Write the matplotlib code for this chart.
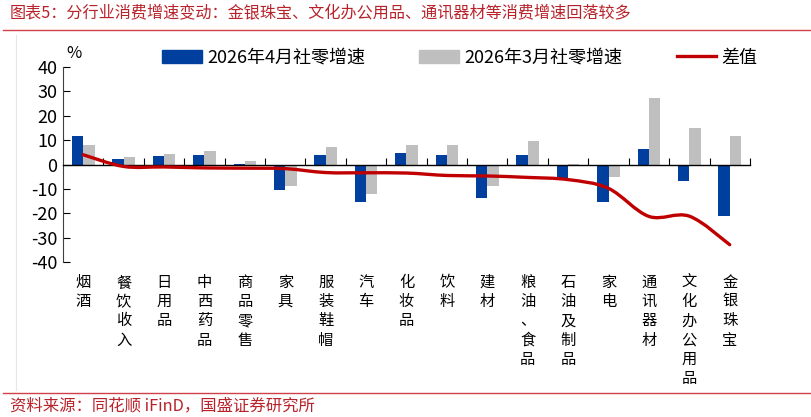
# -*- coding: utf-8 -*-
"""
分行业消费增速变动：4月 vs 3月社零增速及差值
"""

import numpy as np
import matplotlib
matplotlib.use('Agg')
import matplotlib.pyplot as plt
from matplotlib.path import Path
from matplotlib.patches import PathPatch
from matplotlib.lines import Line2D

plt.rcParams['font.family'] = ['Noto Sans CJK SC', 'DejaVu Sans']
plt.rcParams['axes.unicode_minus'] = False

# 数据
categories = ['烟酒', '餐饮收入', '日用品', '中西药品', '商品零售', '家具', '服装鞋帽', '汽车',
              '化妆品', '饮料', '建材', '粮油、食品', '石油及制品', '家电', '通讯器材',
              '文化办公用品', '金银珠宝']
apr_growth = [11.8, 2.2, 3.4, 4.1, 0.1, -10.5, 3.8, -15.3, 4.9, 3.7, -13.7, 4.1, -5.9, -15.3,
              6.3, -6.8, -21.1]
mar_growth = [7.8, 3.0, 4.4, 5.5, 1.6, -8.8, 7.1, -11.9, 8.2, 8.2, -9.0, 9.6, 0.4, -5.1,
              27.3, 15.1, 11.8]
diff = [4.0, -0.8, -1.0, -1.4, -1.5, -1.7, -3.3, -3.4, -3.5, -4.5, -4.7, -5.3, -6.2, -9.8,
        -21.3, -21.2, -32.9]
yticks = [40, 30, 20, 10, 0, -10, -20, -30, -40]

title = '图表5：分行业消费增速变动：金银珠宝、文化办公用品、通讯器材等消费增速回落较多'
source = '资料来源：同花顺 iFinD，国盛证券研究所'

BLUE = '#003F9E'
GRAY = '#BFBFBF'
RED_LINE = '#C00000'
TITLE_RED = '#B8232B'


def smooth_path(xs, ys):
    """Excel风格平滑曲线（贝塞尔控制点）"""
    pts = np.column_stack([xs, ys]).astype(float)
    n = len(pts)
    verts = [pts[0]]
    codes = [Path.MOVETO]
    for i in range(n - 1):
        p_prev = pts[i - 1] if i > 0 else pts[i]
        p_next2 = pts[i + 2] if i + 2 < n else pts[i + 1]
        c1 = pts[i] + (pts[i + 1] - p_prev) / 6.0
        c2 = pts[i + 1] - (p_next2 - pts[i]) / 6.0
        verts += [c1, c2, pts[i + 1]]
        codes += [Path.CURVE4] * 3
    return Path(verts, codes)


fig = plt.figure(figsize=(8.11, 4.17), dpi=100)
ax = fig.add_axes([0.0777, 0.3717, 0.847, 0.4676])

x = np.arange(len(categories))
w = 0.28
ax.bar(x - w / 2, apr_growth, width=w, color=BLUE, zorder=2)
ax.bar(x + w / 2, mar_growth, width=w, color=GRAY, zorder=2)
ax.add_patch(PathPatch(smooth_path(x, diff), fill=False, edgecolor=RED_LINE,
                       linewidth=2.4, capstyle='round', zorder=3))

ax.set_xlim(-0.5, len(categories) - 0.5)
ax.set_ylim(-40, 40)
ax.set_yticks(yticks)
ax.tick_params(axis='y', direction='in', length=5, width=0.8, labelsize=13, pad=4)

for s in ['top', 'right']:
    ax.spines[s].set_visible(False)
ax.spines['bottom'].set_position(('data', 0))
ax.spines['bottom'].set_linewidth(1.0)
ax.spines['left'].set_linewidth(0.8)
ax.spines['left'].set_color('#404040')

# x轴：类别分界处刻度
ax.set_xticks(np.arange(len(categories)) + 0.5)
ax.set_xticklabels([])
ax.tick_params(axis='x', direction='in', length=5, width=0.8)

# 竖排类别标签
for i, name in enumerate(categories):
    ax.text(i, -0.06, '\n'.join(name), transform=ax.get_xaxis_transform(),
            ha='center', va='top', fontsize=11, linespacing=1.18)

ax.text(-0.42, 42, '%', fontsize=12, ha='left', va='bottom')

# 图例
handles = [plt.Rectangle((0, 0), 1, 1, color=BLUE),
           plt.Rectangle((0, 0), 1, 1, color=GRAY),
           Line2D([], [], color=RED_LINE, linewidth=2.4)]
labels = ['2026年4月社零增速', '2026年3月社零增速', '差值']
fig.legend(handles, labels, loc='center', bbox_to_anchor=(0.567, 0.862), ncol=3,
           frameon=False, fontsize=13, handlelength=2.2, handleheight=0.7,
           handletextpad=0.3, columnspacing=3.0)

# 标题、来源及装饰线
fig.text(0.012, 0.966, title, fontsize=11.6, color=TITLE_RED, style='italic',
         ha='left', va='center')
fig.add_artist(Line2D([0.004, 1.0], [0.928, 0.928], color='#D0404A', linewidth=1.0))
fig.add_artist(Line2D([0.004, 1.0], [0.058, 0.058], color='#D0404A', linewidth=1.0))
fig.add_artist(Line2D([0.02, 0.02], [0.065, 0.915], color='#E6E6E6', linewidth=0.8))
fig.text(0.012, 0.026, source, fontsize=11.8, color=TITLE_RED, style='italic',
         ha='left', va='center')

plt.savefig('out.png', dpi=100)
plt.close()
